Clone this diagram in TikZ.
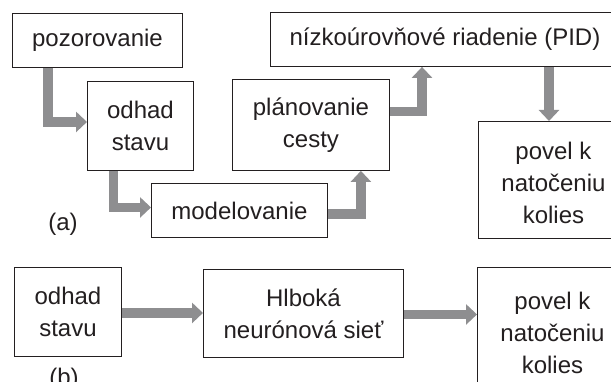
\documentclass[tikz,border=0pt]{standalone}
\usepackage{fontspec}
\setmainfont{Liberation Sans}
\usetikzlibrary{arrows.meta}
\definecolor{flowgray}{RGB}{142,142,144}
\definecolor{ink}{RGB}{35,31,32}
\tikzset{
  box/.style={draw=ink, line width=0.9pt, inner sep=0pt, anchor=north west,
    align=center, text=ink, font=\fontsize{24}{32}\selectfont},
  tag/.style={text=ink, inner sep=0pt, font=\fontsize{24}{32}\selectfont},
  flow/.style={draw=flowgray, line width=9.5pt, line cap=butt, line join=miter,
    -{Triangle[width=20pt,length=11pt]}}
}
\begin{document}
\begin{tikzpicture}[x=1pt,y=-1pt]
  \useasboundingbox (0,0) rectangle (611,382);
  \clip (0,0) rectangle (611,382);
  \fill[white] (0,0) rectangle (611,382);

  % (a) classical pipeline
  \node[box, minimum width=170pt, minimum height=54pt] (poz) at (12,13) {pozorovanie};
  \node[box, minimum width=106pt, minimum height=89pt] (odhadA) at (87,81) {odhad\\stavu};
  \node[box, minimum width=176pt, minimum height=54pt] (model) at (151,183) {modelovanie};
  \node[box, minimum width=157pt, minimum height=91pt] (plan) at (232,79) {plánovanie\\cesty};
  \node[box, minimum width=360pt, minimum height=54pt] (nizko) at (270,12) {\hspace*{-11pt}nízkoúrovňové riadenie (PID)};
  \node[box, minimum width=150pt, minimum height=117pt] (povelA) at (478,121) {\rule{0pt}{23.5pt}povel k\\natočeniu\\kolies};
  \node[tag] (labA) at (63,224) {(a)};

  \draw[flow] ([xshift=36pt]poz.south west) |- ([yshift=4pt]odhadA.west);
  \draw[flow] ([xshift=26.5pt]odhadA.south west) |- ([yshift=3pt]model.west);
  \path ([xshift=-29pt]plan.south east) coordinate (planIn);
  \draw[flow] ([yshift=-3.5pt]model.east) -| (planIn);
  \path ([xshift=152pt]nizko.south west) coordinate (nizkoIn);
  \draw[flow] ([yshift=13.5pt]plan.east) -| (nizkoIn);
  \path ([xshift=71pt]povelA.north west) coordinate (povelIn);
  \draw[flow] (nizko.south -| povelIn) -- (povelIn);

  % (b) end-to-end network
  \node[box, minimum width=107pt, minimum height=89pt] (odhadB) at (14,267) {odhad\\stavu};
  \node[box, minimum width=200pt, minimum height=88pt] (hlb) at (203,269) {Hlboká\\neurónová sieť};
  \node[box, minimum width=150pt, minimum height=125pt] (povelB) at (477,267) {\rule{0pt}{23.5pt}povel k\\natočeniu\\kolies};
  \node[tag] (labB) at (64,379) {(b)};

  \draw[flow] ([yshift=-1pt]odhadB.east) -- ([yshift=-1pt]odhadB.east -| hlb.west);
  \draw[flow] ([yshift=-1pt]hlb.east) -- ([yshift=-1pt]hlb.east -| povelB.west);
\end{tikzpicture}
\end{document}
